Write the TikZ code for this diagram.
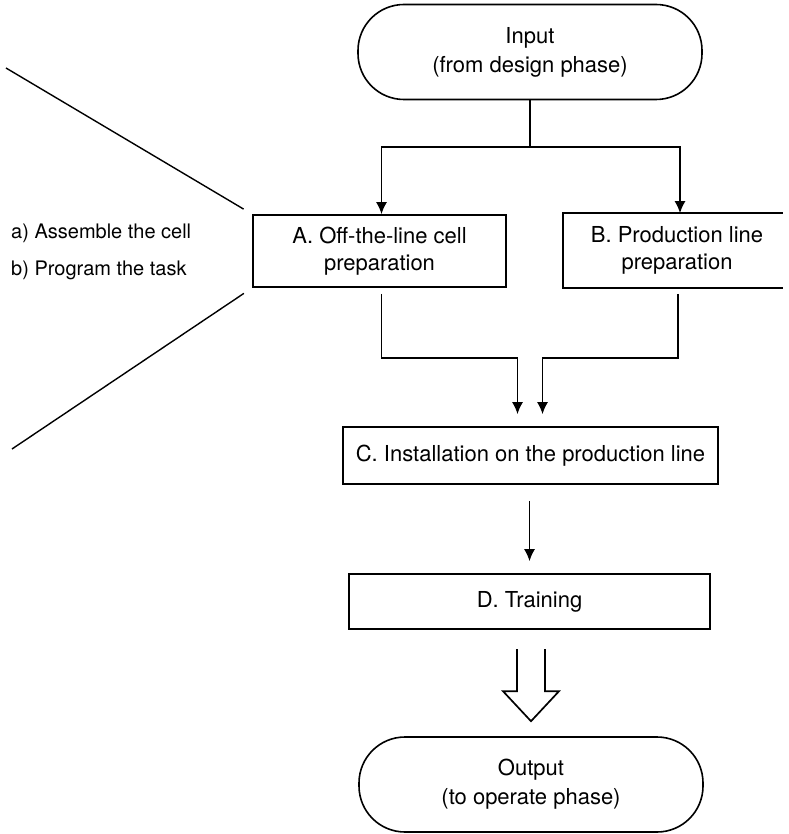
\documentclass[tikz,border=0pt]{standalone}
\usepackage{fontspec}
\setmainfont{TeX Gyre Heros}
\usetikzlibrary{arrows.meta}

\tikzset{
    flow/.style={line width=1.7pt},
    stepbox/.style={draw, line width=1.6pt, inner sep=0pt, align=center,
        font=\fontsize{22}{27}\selectfont},
    terminal/.style={draw, line width=1.6pt, rounded corners=46pt,
        minimum width=344pt, minimum height=95pt, inner sep=0pt, align=center,
        font=\fontsize{22}{29}\selectfont},
    tasklist/.style={inner sep=0pt, align=left, font=\fontsize{20}{37}\selectfont}
}

\begin{document}
\begin{tikzpicture}[x=1pt, y=-1pt, >={Latex[length=12pt, width=11pt]}]

    \useasboundingbox (0, 0) rectangle (788, 834);

    % 1. Input and output
    \node[terminal] (input) at (530, 52) {Input\\(from design phase)};
    \node[terminal] (output) at (531, 784.5) {Output\\(to operate phase)};

    % 2. The four steps (B is open on the right)
    \node[stepbox, minimum width=253pt, minimum height=72pt] (prepA) at (379.5, 251)
        {A. Off-the-line cell\\preparation};
    \node[stepbox, draw=none, minimum width=226pt, minimum height=73pt] (prepB) at (677, 250.5)
        {B. Production line\\preparation};
    \draw[line width=1.6pt] ([xshift=-8pt]prepB.north east) -- (prepB.north west)
        -- (prepB.south west) -- ([xshift=-8pt]prepB.south east);
    \node[stepbox, minimum width=375pt, minimum height=57pt] (install) at (530.5, 455.5)
        {C. Installation on the production line};
    \node[stepbox, minimum width=361pt, minimum height=55pt] (train) at (529.5, 601.5)
        {D. Training};

    % 3. Split from the input to A and B
    \coordinate (split) at (530, 147);
    \draw[flow] (input.south) -- (split);
    \draw[flow, ->] (split) -| ([xshift=2pt]prepA.north);
    \draw[flow, ->] (split) -| ([xshift=3pt]prepB.north);

    % 4. A and B join into C, then C to D
    \draw[flow, ->, shorten <=6pt, shorten >=12pt]
        ([xshift=2pt]prepA.south) -- ++(0, 70) -| ([xshift=-13pt]install.north);
    \draw[flow, ->, shorten <=6pt, shorten >=12pt]
        ([xshift=1pt]prepB.south) -- ++(0, 70) -| ([xshift=12pt]install.north);
    \draw[flow, ->, shorten <=16pt, shorten >=12pt] (install.south -| train.north) -- (train.north);

    % 5. Hollow arrow from D to the output
    \coordinate (tip) at ([yshift=15pt]output.north);
    \draw[flow] (tip) ++(-14, -72) -- ++(0, 42) -- ++(-14, 0) -- (tip)
        -- ++(28, -30) -- ++(-14, 0) -- ++(0, -42);

    % 6. Detail of step A
    \coordinate (fanT) at (6, 68);
    \coordinate (fanB) at (12, 449);
    \draw[flow, line width=1.4pt, shorten <=10pt] (prepA.north west) -- (fanT);
    \draw[flow, line width=1.4pt, shorten <=10pt] (prepA.south west) -- (fanB);
    \node[tasklist, anchor=west] (tasks) at (11, 251.5)
        {a) Assemble the cell\\b) Program the task};

\end{tikzpicture}
\end{document}
